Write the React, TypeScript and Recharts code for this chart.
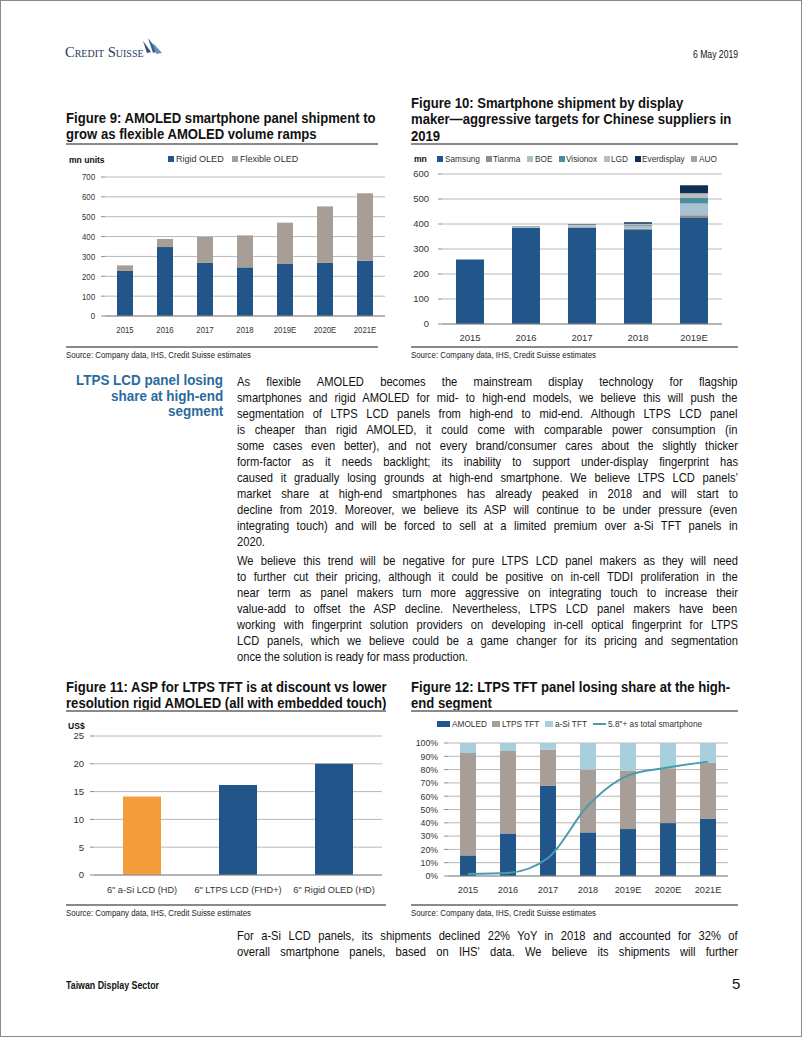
import React from "react";
import { BarChart, Bar, ComposedChart, Line, XAxis, YAxis, CartesianGrid, Cell } from "recharts";

// Figure 9
const years9 = ["2015", "2016", "2017", "2018", "2019E", "2020E", "2021E"];
const rigidOled = [227, 347, 269, 245, 262, 269, 279];
const flexibleOled = [28, 41, 129, 161, 208, 283, 339];

// Figure 10
const years10 = ["2015", "2016", "2017", "2018", "2019E"];
const samsung = [258, 384, 384, 376, 424];
const tianma = [0, 2, 3, 5, 11];
const boe = [0, 3, 6, 12, 47];
const visionox = [0, 0, 1, 3, 22];
const lgd = [0, 2, 3, 5, 19];
const everdisplay = [0, 1, 2, 6, 32];
const auo = [0, 0, 0, 0, 0];

// Figure 11
const panels11 = ['6" a-Si LCD (HD)', '6" LTPS LCD (FHD+)', '6" Rigid OLED (HD)'];
const asp11 = [14.1, 16.2, 20];

// Figure 12
const years12 = ["2015", "2016", "2017", "2018", "2019E", "2020E", "2021E"];
const amoledShare = [15.5, 32, 67.7, 32.8, 35.3, 39.8, 42.9];
const ltpsShare = [77, 62, 27.3, 47.2, 43.7, 41.2, 42.1];
const asiShare = [7.5, 6, 5, 20, 21, 19, 15];
const bigScreenShare = [1.5, 2.3, 13.5, 53, 75.5, 81.5, 86];

const BLUE = "#22568a";
const TAUPE = "#a79e97";
const ASI = "#a8d0dc";
const TEAL = "#4a9bb0";
const SANS = '"Liberation Sans", Arial, sans-serif';
const axisStroke = "#8c8c8c";
const gridStroke = "#b8b8b8";

const data9 = years9.map((y, i) => ({ year: y, rigid: rigidOled[i], flexible: flexibleOled[i] }));
const data10 = years10.map((y, i) => ({
  year: y,
  samsung: samsung[i],
  tianma: tianma[i],
  boe: boe[i],
  visionox: visionox[i],
  lgd: lgd[i],
  everdisplay: everdisplay[i],
  auo: auo[i],
}));
const data11 = panels11.map((p, i) => ({ panel: p, asp: asp11[i] }));
const data12 = years12.map((y, i) => ({
  year: y,
  amoled: amoledShare[i],
  ltps: ltpsShare[i],
  asi: asiShare[i],
  big: bigScreenShare[i],
}));

const makerColors = {
  samsung: BLUE,
  tianma: "#8e8e8e",
  boe: "#a8c1d0",
  visionox: "#4b8ea0",
  lgd: "#bcbcbc",
  everdisplay: "#102f57",
  auo: "#98a6b2",
};

// text measuring, used to mimic the narrow report font
let ctx: CanvasRenderingContext2D | null = null;
function measure(text: string, size: number, bold = false) {
  if (!ctx) ctx = document.createElement("canvas").getContext("2d");
  ctx!.font = `${bold ? "700 " : ""}${size}px "Liberation Sans"`;
  return ctx!.measureText(text).width;
}

type FitProps = {
  x: number;
  y: number;
  text: string;
  size: number;
  scale: number;
  bold?: boolean;
  color?: string;
  right?: boolean;
};
function Fit({ x, y, text, size, scale, bold, color = "#111", right }: FitProps) {
  const w = measure(text, size, bold);
  return (
    <div
      style={{
        position: "absolute",
        left: right ? x - w * scale : x,
        top: y - size * 0.6,
        lineHeight: `${size * 1.2}px`,
        fontSize: size,
        fontWeight: bold ? 700 : 400,
        fontFamily: SANS,
        color,
        whiteSpace: "nowrap",
        transform: `scaleX(${scale})`,
        transformOrigin: "0 0",
      }}
    >
      {text}
    </div>
  );
}

const para1 = [
  "As flexible AMOLED becomes the mainstream display technology for flagship",
  "smartphones and rigid AMOLED for mid- to high-end models, we believe this will push the",
  "segmentation of LTPS LCD panels from high-end to mid-end. Although LTPS LCD panel",
  "is cheaper than rigid AMOLED, it could come with comparable power consumption (in",
  "some cases even better), and not every brand/consumer cares about the slightly thicker",
  "form-factor as it needs backlight; its inability to support under-display fingerprint has",
  "caused it gradually losing grounds at high-end smartphone. We believe LTPS LCD panels\u2019",
  "market share at high-end smartphones has already peaked in 2018 and will start to",
  "decline from 2019. Moreover, we believe its ASP will continue to be under pressure (even",
  "integrating touch) and will be forced to sell at a limited premium over a-Si TFT panels in",
  "2020.",
];
const para2 = [
  "We believe this trend will be negative for pure LTPS LCD panel makers as they will need",
  "to further cut their pricing, although it could be positive on in-cell TDDI proliferation in the",
  "near term as panel makers turn more aggressive on integrating touch to increase their",
  "value-add to offset the ASP decline. Nevertheless, LTPS LCD panel makers have been",
  "working with fingerprint solution providers on developing in-cell optical fingerprint for LTPS",
  "LCD panels, which we believe could be a game changer for its pricing and segmentation",
  "once the solution is ready for mass production.",
];
const para3 = [
  "For a-Si LCD panels, its shipments declined 22% YoY in 2018 and accounted for 32% of",
  "overall smartphone panels, based on IHS' data. We believe its shipments will further",
];

const BODY_SIZE = 13.3;
const BODY_W = 501;

function bodyScale() {
  const lines = [...para1.slice(0, -1), ...para2.slice(0, -1), ...para3];
  let s = 0.84;
  lines.forEach((l) => {
    s = Math.min(s, BODY_W / measure(l, BODY_SIZE));
  });
  return s;
}

function JLine({ y, text, last, s }: { y: number; text: string; last?: boolean; s: number }) {
  const n = measure(text, BODY_SIZE);
  const k = (text.match(/ /g) || []).length;
  const ws = last || k === 0 ? 0 : (BODY_W / s - n) / k;
  return (
    <div
      style={{
        position: "absolute",
        left: 236,
        top: y - 8,
        lineHeight: "16px",
        fontFamily: SANS,
        fontSize: BODY_SIZE,
        color: "#111",
        whiteSpace: "nowrap",
        wordSpacing: ws,
        transform: `scaleX(${s})`,
        transformOrigin: "0 0",
      }}
    >
      {text}
    </div>
  );
}

function Rule({ x, y, w }: { x: number; y: number; w: number }) {
  return <div style={{ position: "absolute", left: x, top: y, width: w, height: 1.5, background: "#8a8a8a" }} />;
}

type LegItem = { label: string; color: string; w: number; h: number };
function Legend({ x, y, items, scale, gap, size = 9.5 }: { x: number; y: number; items: LegItem[]; scale: number; gap: number; size?: number }) {
  let cx = x;
  const out: React.ReactNode[] = [];
  items.forEach((it) => {
    out.push(<div key={it.label + "m"} style={{ position: "absolute", left: cx, top: y - it.h / 2, width: it.w, height: it.h, background: it.color }} />);
    cx += it.w + 1.5;
    out.push(<Fit key={it.label} x={cx} y={y} text={it.label} size={size} scale={scale} color="#333" />);
    cx += measure(it.label, size) * scale + gap;
  });
  return <>{out}</>;
}

function makeTick(anchor: "middle" | "end", sx: number, fmt?: (v: any) => string) {
  return (props: any) => {
    const { x, y, payload } = props;
    const v = fmt ? fmt(payload.value) : String(payload.value);
    return (
      <g transform={`translate(${x},${y})`}>
        <text
          x={0}
          y={0}
          dy={anchor === "middle" ? "0.71em" : "0.355em"}
          textAnchor={anchor}
          transform={`scale(${sx},1)`}
          fontSize={9.5}
          fontFamily={SANS}
          fill="#333"
        >
          {v}
        </text>
      </g>
    );
  };
}

export default function App() {
  const sBody = bodyScale();
  const sTitle = 310 / measure("Figure 9: AMOLED smartphone panel shipment to", 14, true);
  const sHead = 147 / measure("LTPS LCD panel losing", 14.5, true);
  const sSrc = 185 / measure("Source: Company data, IHS, Credit Suisse estimates", 8.5);
  const title = (x: number, y: number, t: string) => <Fit x={x} y={y} text={t} size={14} bold scale={sTitle} />;
  const src = (x: number, y: number) => <Fit x={x} y={y} text="Source: Company data, IHS, Credit Suisse estimates" size={8.5} scale={sSrc} color="#222" />;

  return (
    <div
      style={{
        position: "absolute",
        left: 0,
        top: 0,
        width: 800,
        height: 1035,
        border: "1px solid #8a8a8a",
        background: "#fff",
        overflow: "hidden",
        fontFamily: SANS,
      }}
    >
      {/* header */}
      <div
        style={{
          position: "absolute",
          left: 64,
          top: 43,
          lineHeight: "16px",
          fontFamily: '"Liberation Serif", serif',
          fontSize: 14.5,
          fontVariant: "small-caps",
          color: "#1f3a60",
          whiteSpace: "nowrap",
        }}
      >
        Credit Suisse
      </div>
      <svg style={{ position: "absolute", left: 140, top: 37 }} width={22} height={18}>
        <polygon points="2,3 10,14 6,15" fill="#2f4f7f" />
        <polygon points="7,0 17,13 12,15" fill="#3b5f91" />
        <polygon points="12,5 21,15 15,16" fill="#6f8fb8" />
      </svg>
      <Fit x={737} y={53} text="6 May 2019" size={10.5} scale={0.82} right />

      {/* Figure 9 */}
      {title(65, 117, "Figure 9: AMOLED smartphone panel shipment to")}
      {title(65, 133, "grow as flexible AMOLED volume ramps")}
      <Rule x={65} y={142} w={312} />
      <Fit x={68} y={159} text="mn units" size={9.5} bold scale={0.9} />
      <Legend
        x={167}
        y={158}
        scale={0.95}
        gap={9}
        items={[
          { label: "Rigid OLED", color: BLUE, w: 6, h: 6 },
          { label: "Flexible OLED", color: TAUPE, w: 6, h: 6 },
        ]}
      />
      <div style={{ position: "absolute", left: 60, top: 165 }}>
        <BarChart width={330} height={175} data={data9} margin={{ top: 11, right: 6, bottom: 0, left: 0 }} barSize={16}>
          <CartesianGrid vertical={false} stroke={gridStroke} />
          <XAxis dataKey="year" interval={0} tick={makeTick("middle", 0.82)} tickLine={false} stroke={axisStroke} height={25} tickMargin={4} />
          <YAxis domain={[0, 700]} ticks={[0, 100, 200, 300, 400, 500, 600, 700]} interval={0} width={44} tick={makeTick("end", 0.82)} tickSize={4} tickMargin={6} stroke={axisStroke} axisLine={false} />
          <Bar dataKey="rigid" stackId="a" fill={BLUE} isAnimationActive={false} />
          <Bar dataKey="flexible" stackId="a" fill={TAUPE} isAnimationActive={false} />
        </BarChart>
      </div>
      <Rule x={65} y={345} w={312} />
      {src(65, 354)}

      {/* Figure 10 */}
      {title(410, 102, "Figure 10: Smartphone shipment by display")}
      {title(410, 118, "maker\u2014aggressive targets for Chinese suppliers in")}
      {title(410, 135, "2019")}
      <Rule x={410} y={142} w={327} />
      <Fit x={413} y={158} text="mn" size={9.5} bold scale={0.9} />
      <Legend
        x={436}
        y={158}
        scale={0.87}
        gap={6.5}
        items={[
          { label: "Samsung", color: makerColors.samsung, w: 6, h: 6 },
          { label: "Tianma", color: makerColors.tianma, w: 6, h: 6 },
          { label: "BOE", color: makerColors.boe, w: 6, h: 6 },
          { label: "Visionox", color: makerColors.visionox, w: 6, h: 6 },
          { label: "LGD", color: makerColors.lgd, w: 6, h: 6 },
          { label: "Everdisplay", color: makerColors.everdisplay, w: 6, h: 6 },
          { label: "AUO", color: makerColors.auo, w: 6, h: 6 },
        ]}
      />
      <div style={{ position: "absolute", left: 405, top: 163 }}>
        <BarChart width={340} height={185} data={data10} margin={{ top: 10, right: 24, bottom: 0, left: 0 }} barSize={28}>
          <CartesianGrid vertical={false} stroke={gridStroke} />
          <XAxis dataKey="year" interval={0} tick={makeTick("middle", 1)} tickLine={false} stroke={axisStroke} height={25} tickMargin={4} />
          <YAxis domain={[0, 600]} ticks={[0, 100, 200, 300, 400, 500, 600]} interval={0} width={36} tick={makeTick("end", 1)} tickSize={4} tickMargin={9} stroke={axisStroke} axisLine={false} />
          <Bar dataKey="samsung" stackId="m" fill={makerColors.samsung} isAnimationActive={false} />
          <Bar dataKey="tianma" stackId="m" fill={makerColors.tianma} isAnimationActive={false} />
          <Bar dataKey="boe" stackId="m" fill={makerColors.boe} isAnimationActive={false} />
          <Bar dataKey="visionox" stackId="m" fill={makerColors.visionox} isAnimationActive={false} />
          <Bar dataKey="lgd" stackId="m" fill={makerColors.lgd} isAnimationActive={false} />
          <Bar dataKey="everdisplay" stackId="m" fill={makerColors.everdisplay} isAnimationActive={false} />
          <Bar dataKey="auo" stackId="m" fill={makerColors.auo} isAnimationActive={false} />
        </BarChart>
      </div>
      <Rule x={410} y={345} w={327} />
      {src(410, 354)}

      {/* side heading + body */}
      {["LTPS LCD panel losing", "share at high-end", "segment"].map((s, i) => (
        <Fit key={s} x={222} y={380 + i * 15.5} text={s} size={14.5} bold scale={sHead} color="#2b6a9b" right />
      ))}
      {para1.map((t, i) => (
        <JLine key={"a" + i} y={381 + i * 16} text={t} last={i === para1.length - 1} s={sBody} />
      ))}
      {para2.map((t, i) => (
        <JLine key={"b" + i} y={560 + i * 16} text={t} last={i === para2.length - 1} s={sBody} />
      ))}

      {/* Figure 11 */}
      {title(65, 686, "Figure 11: ASP for LTPS TFT is at discount vs lower")}
      {title(65, 702, "resolution rigid AMOLED (all with embedded touch)")}
      <Rule x={65} y={709} w={320} />
      <Fit x={67} y={725} text="US$" size={9.5} bold scale={0.9} />
      <div style={{ position: "absolute", left: 60, top: 725 }}>
        <BarChart width={330} height={175} data={data11} margin={{ top: 10, right: 9, bottom: 0, left: 0 }} barSize={38}>
          <CartesianGrid vertical={false} stroke={gridStroke} />
          <XAxis dataKey="panel" tick={makeTick("middle", 0.97)} tickLine={false} stroke={axisStroke} height={26} tickMargin={5} interval={0} />
          <YAxis domain={[0, 25]} ticks={[0, 5, 10, 15, 20, 25]} interval={0} width={33} tick={makeTick("end", 1)} tickSize={4} tickMargin={6} stroke={axisStroke} axisLine={false} />
          <Bar dataKey="asp" fill={BLUE} isAnimationActive={false}>
            {data11.map((d, i) => (
              <Cell key={d.panel} fill={i === 0 ? "#f49d3d" : BLUE} />
            ))}
          </Bar>
        </BarChart>
      </div>
      <Rule x={65} y={903} w={320} />
      {src(65, 912)}

      {/* Figure 12 */}
      {title(410, 686, "Figure 12: LTPS TFT panel losing share at the high-")}
      {title(410, 702, "end segment")}
      <Rule x={410} y={709} w={327} />
      <Legend
        x={436}
        y={723}
        scale={0.87}
        gap={6}
        items={[
          { label: "AMOLED", color: BLUE, w: 13, h: 6 },
          { label: "LTPS TFT", color: TAUPE, w: 8, h: 6 },
          { label: "a-Si TFT", color: ASI, w: 8, h: 6 },
          { label: '5.8"+ as total smartphone', color: TEAL, w: 13, h: 2 },
        ]}
      />
      <div style={{ position: "absolute", left: 405, top: 732 }}>
        <ComposedChart width={340} height={168} data={data12} margin={{ top: 10, right: 18, bottom: 0, left: 0 }} barSize={16}>
          <CartesianGrid vertical={false} stroke={gridStroke} />
          <XAxis dataKey="year" interval={0} tick={makeTick("middle", 0.97)} tickLine={false} stroke={axisStroke} height={25} tickMargin={4} />
          <YAxis
            domain={[0, 100]}
            ticks={[0, 10, 20, 30, 40, 50, 60, 70, 80, 90, 100]}
            interval={0}
            width={42}
            tick={makeTick("end", 0.92, (v) => v + "%")}
            tickSize={4}
            tickMargin={6}
            stroke={axisStroke}
            axisLine={false}
          />
          <Bar dataKey="amoled" stackId="a" fill={BLUE} isAnimationActive={false} />
          <Bar dataKey="ltps" stackId="a" fill={TAUPE} isAnimationActive={false} />
          <Bar dataKey="asi" stackId="a" fill={ASI} isAnimationActive={false} />
          <Line dataKey="big" type="monotone" stroke={TEAL} strokeWidth={2} dot={false} isAnimationActive={false} />
        </ComposedChart>
      </div>
      <Rule x={410} y={903} w={327} />
      {src(410, 912)}

      {para3.map((t, i) => (
        <JLine key={"c" + i} y={935 + i * 16} text={t} s={sBody} />
      ))}

      {/* footer */}
      <Fit x={65} y={984} text="Taiwan Display Sector" size={10.5} bold scale={93 / measure("Taiwan Display Sector", 10.5, true)} />
      <Fit x={731} y={983} text="5" size={15} scale={1} />
    </div>
  );
}
